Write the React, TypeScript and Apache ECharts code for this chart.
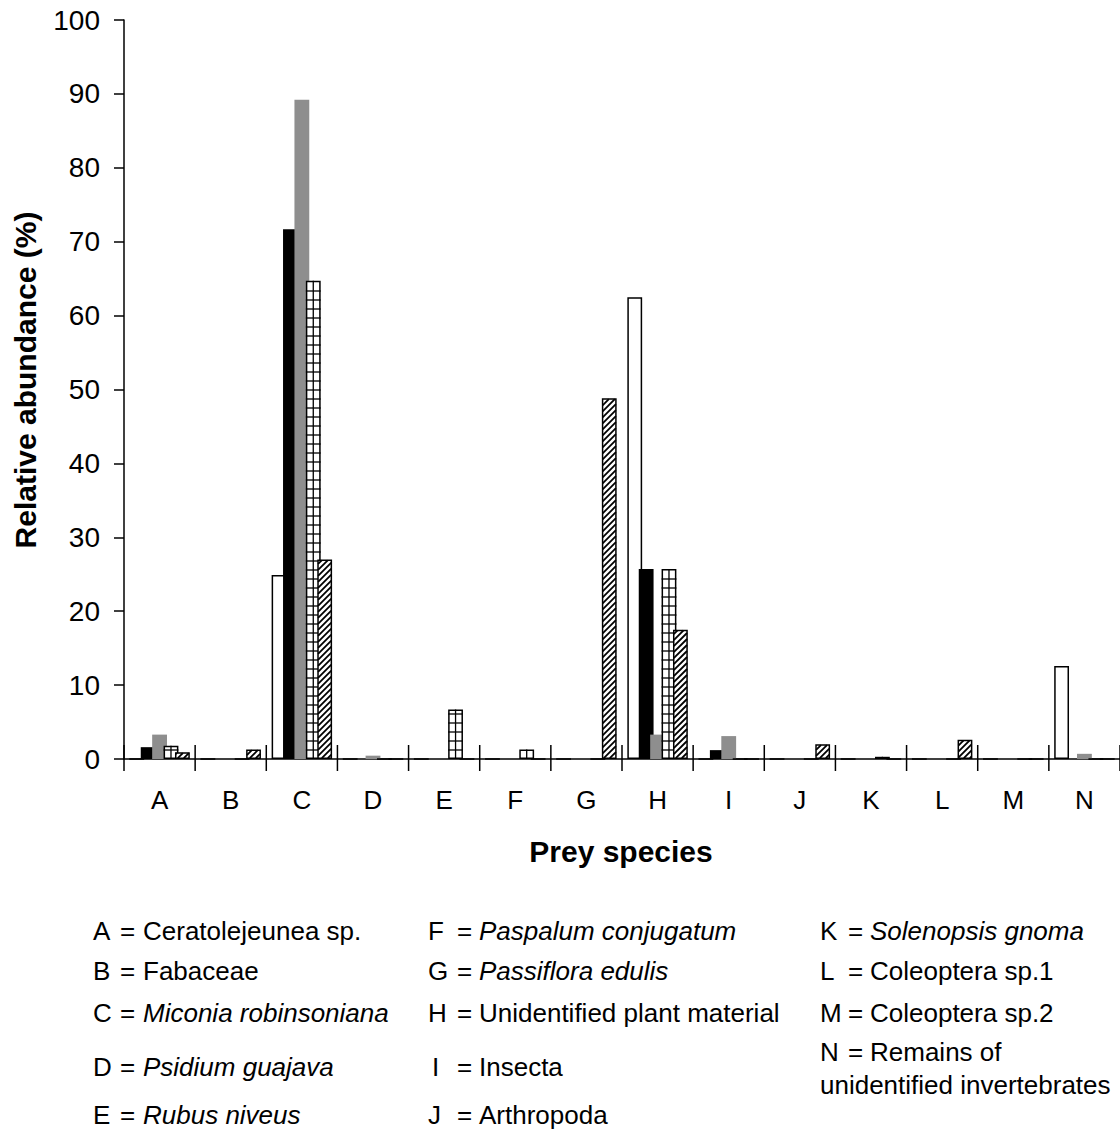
import React, { useEffect, useRef } from 'react';
import * as echarts from 'echarts';

const categories = ['A', 'B', 'C', 'D', 'E', 'F', 'G', 'H', 'I', 'J', 'K', 'L', 'M', 'N'];
const openBars = [0, 0, 24.9, 0, 0, 0, 0, 62.5, 0, 0, 0, 0, 0, 12.6];
const blackBars = [1.6, 0, 71.7, 0, 0, 0, 0, 25.7, 1.2, 0, 0, 0, 0, 0];
const grayBars = [3.3, 0, 89.2, 0.45, 0, 0, 0, 3.3, 3.1, 0, 0, 0, 0, 0.7];
const gridBars = [1.8, 0, 64.7, 0, 6.7, 1.3, 0, 25.7, 0, 0, 0.3, 0, 0, 0];
const hatchBars = [0.9, 1.3, 27.0, 0, 0, 0, 48.8, 17.5, 0, 2.0, 0, 2.6, 0, 0];

const yMin = 0;
const yMax = 100;
const yInterval = 10;

const legendCodes = ['A', 'B', 'C', 'D', 'E', 'F', 'G', 'H', 'I', 'J', 'K', 'L', 'M', 'N'];
const legendNames = [
  'Ceratolejeunea sp.',
  'Fabaceae',
  'Miconia robinsoniana',
  'Psidium guajava',
  'Rubus niveus',
  'Paspalum conjugatum',
  'Passiflora edulis',
  'Unidentified plant material',
  'Insecta',
  'Arthropoda',
  'Solenopsis gnoma',
  'Coleoptera sp.1',
  'Coleoptera sp.2',
  'Remains of\nunidentified invertebrates',
];
const legendItalic = [false, false, true, true, true, true, true, false, false, false, true, false, false, false];

const FONT = '"Liberation Sans", Arial, sans-serif';
const BAR_CAT_GAP = 0.15;
const BAR_GAP = -0.23;
const N_BARS = 5;
const GRID_STEP = 9;
const HATCH_STEP = 6;

function slotRect(api: any, idx: number, value: number, slot: number) {
  const base = api.coord([idx, 0]);
  const top = api.coord([idx, value]);
  const bandW = api.size([1, 0])[0];
  const remained = bandW * (1 - BAR_CAT_GAP);
  const barW = remained / (N_BARS + (N_BARS - 1) * BAR_GAP);
  const widthSum = barW * N_BARS + barW * BAR_GAP * (N_BARS - 1);
  const x0 = base[0] - widthSum / 2 + slot * barW * (1 + BAR_GAP);
  return { x0, x1: x0 + barW, y0: top[1], y1: base[1] };
}

export default function App() {
  const ref = useRef<HTMLDivElement>(null);

  useEffect(() => {
    if (!ref.current) return;
    const chart = echarts.init(ref.current, undefined, { renderer: 'svg' });

    const barBase = {
      type: 'bar' as const,
      xAxisIndex: 0,
      yAxisIndex: 0,
      barGap: `${BAR_GAP * 100}%`,
      barCategoryGap: `${BAR_CAT_GAP * 100}%`,
    };

    const gridLinesRender = (params: any, api: any) => {
      const idx = api.value(0);
      const v = api.value(1);
      if (!v) return null;
      const r = slotRect(api, idx, v, 3);
      const children: any[] = [];
      const cx = (r.x0 + r.x1) / 2;
      const st = { stroke: '#000', lineWidth: 1.3, fill: null };
      children.push({ type: 'line', shape: { x1: cx, y1: r.y0, x2: cx, y2: r.y1 }, style: st });
      for (let y = r.y1 - GRID_STEP; y > r.y0 + 2; y -= GRID_STEP) {
        children.push({ type: 'line', shape: { x1: r.x0, y1: y, x2: r.x1, y2: y }, style: st });
      }
      return { type: 'group', children };
    };

    const hatchRender = (params: any, api: any) => {
      const idx = api.value(0);
      const v = api.value(1);
      if (!v) return null;
      const r = slotRect(api, idx, v, 4);
      const ix0 = r.x0 + 0.8, ix1 = r.x1 - 0.8, iy0 = r.y0 + 0.8, iy1 = r.y1 - 0.8;
      const children: any[] = [];
      const st = { stroke: '#000', lineWidth: 1.8, fill: null };
      const cStart = Math.ceil((ix0 + iy0) / HATCH_STEP) * HATCH_STEP;
      for (let c = cStart; c < ix1 + iy1; c += HATCH_STEP) {
        const lo = Math.max(ix0, c - iy1);
        const hi = Math.min(ix1, c - iy0);
        if (hi - lo > 0.3) {
          children.push({ type: 'line', shape: { x1: lo, y1: c - lo, x2: hi, y2: c - hi }, style: st });
        }
      }
      return { type: 'group', children };
    };

    const tickRender = (params: any, api: any) => {
      const idx = api.value(0);
      const base = api.coord([idx, 0]);
      const bandW = api.size([1, 0])[0];
      const st = { stroke: '#000', lineWidth: 1.5, fill: null };
      const xs = [base[0] - bandW / 2];
      if (idx === categories.length - 1) xs.push(base[0] + bandW / 2);
      return {
        type: 'group',
        children: xs.map((x) => ({
          type: 'line',
          shape: { x1: x, y1: base[1] - 14, x2: x, y2: base[1] + 12 },
          style: st,
        })),
      };
    };

    const graphics: any[] = [
      {
        type: 'text',
        x: 25,
        y: 380,
        rotation: Math.PI / 2,
        style: {
          text: 'Relative abundance (%)',
          font: `bold 30px ${FONT}`,
          fill: '#000',
          align: 'center',
          verticalAlign: 'middle',
        },
      },
      {
        type: 'text',
        x: 621,
        y: 851,
        style: {
          text: 'Prey species',
          font: `bold 30px ${FONT}`,
          fill: '#000',
          align: 'center',
          verticalAlign: 'middle',
        },
      },
    ];

    const colLetterX = [93, 428, 820];
    const colEqX = [120, 457, 848];
    const colNameX = [143, 479, 870];
    const rowY = [931, 971, 1013, 1067, 1115];
    legendCodes.forEach((code, i) => {
      const col = Math.floor(i / 5);
      const row = i % 5;
      const y = i === 13 ? 1052 : rowY[row];
      const lx = colLetterX[col] + (code === 'I' ? 4 : 0);
      const base = { fill: '#000', verticalAlign: 'middle', align: 'left' };
      graphics.push({ type: 'text', x: lx, y, style: { ...base, text: code, font: `26px ${FONT}` } });
      graphics.push({ type: 'text', x: colEqX[col], y, style: { ...base, text: '=', font: `26px ${FONT}` } });
      const name = legendNames[i];
      if (name.includes('\n')) {
        const [first, second] = name.split('\n');
        graphics.push({ type: 'text', x: colNameX[col], y, style: { ...base, text: first, font: `26px ${FONT}` } });
        graphics.push({ type: 'text', x: colLetterX[col], y: y + 33, style: { ...base, text: second, font: `26px ${FONT}` } });
      } else {
        graphics.push({
          type: 'text',
          x: colNameX[col],
          y,
          style: { ...base, text: name, font: `${legendItalic[i] ? 'italic ' : ''}26px ${FONT}` },
        });
      }
    });

    chart.setOption({
      animation: false,
      backgroundColor: '#fff',
      grid: { left: 124, top: 20, width: 1006, height: 739, containLabel: false },
      xAxis: {
        type: 'category',
        data: categories,
        boundaryGap: true,
        axisLine: { show: true, lineStyle: { color: '#000', width: 1.5 } },
        axisTick: { show: false },
        axisLabel: { show: true, color: '#000', fontSize: 26, fontFamily: FONT, margin: 28 },
        splitLine: { show: false },
      },
      yAxis: {
        type: 'value',
        min: yMin,
        max: yMax,
        interval: yInterval,
        axisLine: { show: true, lineStyle: { color: '#000', width: 1.5 } },
        axisTick: { show: true, inside: false, length: 10, lineStyle: { color: '#000', width: 1.5 } },
        axisLabel: { color: '#000', fontSize: 28, fontFamily: FONT, margin: 24 },
        splitLine: { show: false },
      },
      series: [
        {
          ...barBase,
          name: 'open',
          data: openBars,
          z: 2,
          itemStyle: { color: '#fff', borderColor: '#000', borderWidth: 1.5 },
        },
        {
          ...barBase,
          name: 'black',
          data: blackBars,
          z: 2,
          itemStyle: { color: '#000', borderColor: '#000', borderWidth: 0 },
        },
        {
          ...barBase,
          name: 'gray',
          data: grayBars,
          z: 2,
          itemStyle: { color: '#8e8e8e', borderWidth: 0 },
        },
        {
          ...barBase,
          name: 'grid',
          data: gridBars,
          z: 3,
          itemStyle: { color: '#fff', borderColor: '#000', borderWidth: 1.5 },
        },
        {
          type: 'custom',
          name: 'gridLines',
          z: 4,
          data: gridBars.map((v, i) => [i, v]),
          encode: { x: 0, y: 1 },
          renderItem: gridLinesRender,
          silent: true,
        },
        {
          ...barBase,
          name: 'hatch',
          data: hatchBars,
          z: 5,
          itemStyle: { color: '#fff', borderColor: '#000', borderWidth: 1.5 },
        },
        {
          type: 'custom',
          name: 'hatchLines',
          z: 6,
          data: hatchBars.map((v, i) => [i, v]),
          encode: { x: 0, y: 1 },
          renderItem: hatchRender,
          silent: true,
        },
        {
          type: 'custom',
          name: 'tickMarks',
          z: 7,
          clip: false,
          data: categories.map((c, i) => [i, 0]),
          encode: { x: 0, y: 1 },
          renderItem: tickRender,
          silent: true,
        },
      ],
      graphic: graphics,
    });

    return () => chart.dispose();
  }, []);

  return (
    <div
      ref={ref}
      style={{ position: 'absolute', left: 0, top: 0, width: 1120, height: 1131, background: '#fff' }}
    />
  );
}
